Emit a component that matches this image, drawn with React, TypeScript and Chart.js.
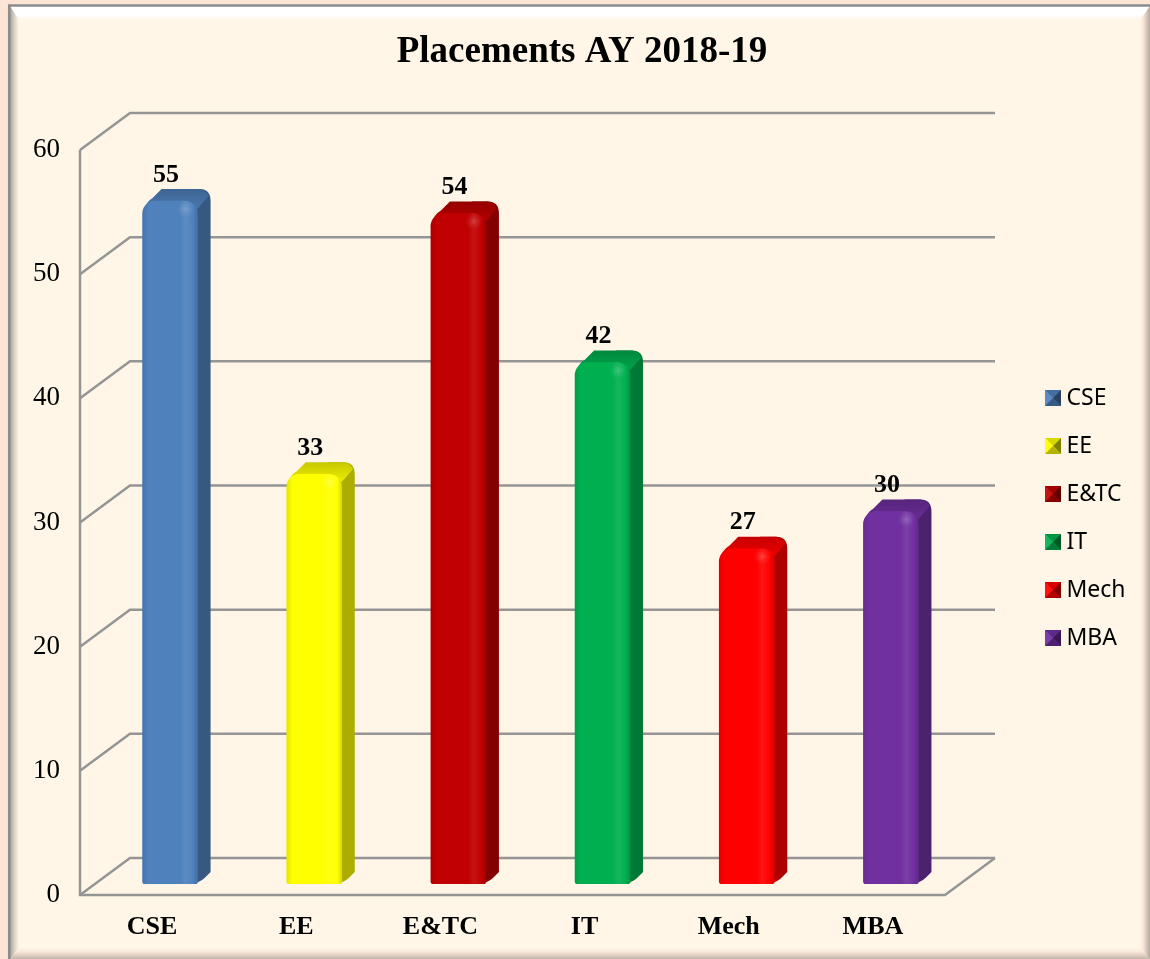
import React, { useEffect, useRef } from "react";
import { Chart, registerables } from "chart.js";

Chart.register(...registerables);

const categories = ["CSE", "EE", "E&TC", "IT", "Mech", "MBA"];
const placements = [55, 33, 54, 42, 27, 30];
const barColors = ["#4F81BD", "#FFFF00", "#C00000", "#00B050", "#FF0000", "#7030A0"];
const chartTitle = "Placements AY 2018-19";

const SERIF = "'Liberation Serif', 'Times New Roman', serif";
const CREAM = "#FFF6E8";
const GRID = "#959595";
const WALL_DX = 50;
const WALL_DY = 37;
const BAR_DX = 18;
const BAR_DY = 11;
const SIDE_DX = 13;
const SIDE_DY = 12;

function shade(hex: string, f: number, a = 1): string {
  const n = parseInt(hex.slice(1), 16);
  const ch = [(n >> 16) & 255, (n >> 8) & 255, n & 255].map((v) =>
    Math.round(f <= 1 ? v * f : v + (255 - v) * (f - 1))
  );
  return `rgba(${ch[0]},${ch[1]},${ch[2]},${a})`;
}

function marker(color: string): HTMLCanvasElement {
  const s = 16;
  const c = document.createElement("canvas");
  c.width = s;
  c.height = s;
  const g = c.getContext("2d")!;
  const tri = (pts: number[][], fill: string) => {
    g.fillStyle = fill;
    g.beginPath();
    g.moveTo(pts[0][0], pts[0][1]);
    g.lineTo(pts[1][0], pts[1][1]);
    g.lineTo(pts[2][0], pts[2][1]);
    g.closePath();
    g.fill();
  };
  g.fillStyle = color;
  g.fillRect(0, 0, s, s);
  const m = s / 2;
  tri([[0, 0], [s, 0], [m, m]], shade(color, 0.85));
  tri([[0, 0], [0, s], [m, m]], shade(color, 1.08));
  tri([[s, 0], [s, s], [m, m]], shade(color, 0.5));
  tri([[0, s], [s, s], [m, m]], shade(color, 0.7));
  return c;
}

const framePlugin = {
  id: "frame",
  beforeDraw(chart: any) {
    const { ctx, width: w, height: h } = chart;
    ctx.save();
    ctx.fillStyle = "#FDE5D6";
    ctx.fillRect(0, 0, w, h);
    ctx.fillStyle = CREAM;
    ctx.fillRect(10, 6, w - 10, h - 6);
    // top bevel
    let g = ctx.createLinearGradient(0, 6, 0, 20);
    g.addColorStop(0, "#FFFFFF");
    g.addColorStop(0.65, "#FFFFFF");
    g.addColorStop(1, CREAM);
    ctx.fillStyle = g;
    ctx.beginPath();
    ctx.moveTo(10, 6);
    ctx.lineTo(w, 6);
    ctx.lineTo(w - 10, 20);
    ctx.lineTo(19, 20);
    ctx.closePath();
    ctx.fill();
    // left bevel
    g = ctx.createLinearGradient(10, 0, 19, 0);
    g.addColorStop(0, "#A8A29C");
    g.addColorStop(0.5, "#DAD3C9");
    g.addColorStop(1, CREAM);
    ctx.fillStyle = g;
    ctx.beginPath();
    ctx.moveTo(10, 6);
    ctx.lineTo(19, 20);
    ctx.lineTo(19, h - 11);
    ctx.lineTo(10, h);
    ctx.closePath();
    ctx.fill();
    // right bevel
    g = ctx.createLinearGradient(w - 10, 0, w, 0);
    g.addColorStop(0, CREAM);
    g.addColorStop(0.35, "#F8E4D6");
    g.addColorStop(1, "#B5A89E");
    ctx.fillStyle = g;
    ctx.beginPath();
    ctx.moveTo(w, 6);
    ctx.lineTo(w - 10, 20);
    ctx.lineTo(w - 10, h - 11);
    ctx.lineTo(w, h);
    ctx.closePath();
    ctx.fill();
    // bottom bevel
    g = ctx.createLinearGradient(0, h - 11, 0, h);
    g.addColorStop(0, CREAM);
    g.addColorStop(0.4, "#F8E4D6");
    g.addColorStop(1, "#C2B4AA");
    ctx.fillStyle = g;
    ctx.beginPath();
    ctx.moveTo(10, h);
    ctx.lineTo(19, h - 11);
    ctx.lineTo(w - 10, h - 11);
    ctx.lineTo(w, h);
    ctx.closePath();
    ctx.fill();
    // outer line
    ctx.strokeStyle = "#8C8C8C";
    ctx.lineWidth = 2.5;
    ctx.beginPath();
    ctx.moveTo(9.2, h);
    ctx.lineTo(9.2, 5.5);
    ctx.lineTo(w, 5.5);
    ctx.stroke();
    ctx.restore();
  },
};

const wallPlugin = {
  id: "wall",
  beforeDatasetsDraw(chart: any) {
    const { ctx, chartArea: a, scales } = chart;
    const y = scales.y;
    ctx.save();
    ctx.strokeStyle = GRID;
    ctx.lineWidth = 2.5;
    y.ticks.forEach((t: any) => {
      const py = y.getPixelForValue(t.value);
      ctx.beginPath();
      ctx.moveTo(a.left, py);
      ctx.lineTo(a.left + WALL_DX, py - WALL_DY);
      ctx.lineTo(a.right + WALL_DX, py - WALL_DY);
      ctx.stroke();
    });
    ctx.beginPath();
    ctx.moveTo(a.left, a.top);
    ctx.lineTo(a.left, a.bottom);
    ctx.lineTo(a.right, a.bottom);
    ctx.lineTo(a.right + WALL_DX, a.bottom - WALL_DY);
    ctx.stroke();
    ctx.restore();
  },
};

const bar3dPlugin = {
  id: "bar3d",
  beforeDatasetDraw(chart: any, args: any) {
    const { ctx } = chart;
    ctx.save();
    ctx.translate(BAR_DX, -BAR_DY);
    args.meta.data.forEach((el: any, i: number) => {
      const c = barColors[i];
      const L = el.x - el.width / 2;
      const R = el.x + el.width / 2;
      const T = el.y;
      const B = el.base;
      const dx = SIDE_DX;
      const dy = SIDE_DY;
      // right side
      ctx.fillStyle = shade(c, 0.68);
      ctx.beginPath();
      ctx.moveTo(R - 14, T - dy);
      ctx.lineTo(R + dx - 11, T - dy);
      ctx.quadraticCurveTo(R + dx, T - dy, R + dx, T - dy + 12);
      ctx.lineTo(R + dx, B - 12);
      ctx.lineTo(R + 7, B - 6);
      ctx.quadraticCurveTo(R + 2, B - 1, R - 8, B);
      ctx.closePath();
      ctx.fill();
      // top
      const g = ctx.createLinearGradient(0, T - dy, 0, T + 4);
      g.addColorStop(0, shade(c, 0.78));
      g.addColorStop(1, shade(c, 0.9));
      ctx.fillStyle = g;
      ctx.beginPath();
      ctx.moveTo(L + 1, T + 10);
      ctx.quadraticCurveTo(L + 3, T + 1, L + 10, T - 3);
      ctx.lineTo(L + 19, T - dy);
      ctx.lineTo(R + dx - 11, T - dy);
      ctx.quadraticCurveTo(R + dx - 4, T - dy + 1, R + dx - 2, T - dy + 7);
      ctx.lineTo(R - 2, T + 10);
      ctx.closePath();
      ctx.fill();
    });
  },
  afterDatasetDraw(chart: any, args: any) {
    const { ctx } = chart;
    args.meta.data.forEach((el: any, i: number) => {
      const c = barColors[i];
      const R = el.x + el.width / 2;
      const T = el.y;
      const hx = R - 12;
      const hy = T + 8;
      const g = ctx.createRadialGradient(hx, hy, 0, hx, hy, 9);
      g.addColorStop(0, shade(c, 1.28, 0.9));
      g.addColorStop(1, shade(c, 1.1, 0));
      ctx.fillStyle = g;
      ctx.fillRect(hx - 9, hy - 9, 18, 18);
    });
    ctx.restore();
    // value labels
    ctx.save();
    ctx.fillStyle = "#000";
    ctx.font = `bold 26px ${SERIF}`;
    ctx.textAlign = "center";
    ctx.textBaseline = "middle";
    args.meta.data.forEach((el: any, i: number) => {
      ctx.fillText(String(placements[i]), el.x + BAR_DX - 4, el.y - BAR_DY - 26);
    });
    ctx.restore();
  },
};

const placePlugin = {
  id: "place",
  afterLayout(chart: any) {
    if (chart.legend) {
      const l = chart.legend;
      l.left = 1026;
      l.top = 361.5;
      l.right = 1150;
      l.bottom = 700;
      l.width = l.right - l.left;
      l.height = l.bottom - l.top;
    }
    if (chart.titleBlock) {
      chart.titleBlock.left = 7;
      chart.titleBlock.right = 1157;
    }
  },
};

export default function App() {
  const ref = useRef<HTMLCanvasElement>(null);
  useEffect(() => {
    const chart = new Chart(ref.current!, {
      type: "bar",
      data: {
        labels: categories,
        datasets: [
          {
            label: "Placements",
            data: placements,
            barThickness: 55,
            borderSkipped: false,
            borderRadius: { topLeft: 13, topRight: 13, bottomLeft: 3, bottomRight: 3 },
            backgroundColor: (ctx: any) => {
              const ch = ctx.chart;
              const c = barColors[ctx.dataIndex] || barColors[0];
              if (!ch.scales.x || ctx.dataIndex === undefined) return c;
              const x = ch.scales.x.getPixelForValue(ctx.dataIndex);
              const g = ch.ctx.createLinearGradient(x - 27.5, 0, x + 27.5, 0);
              g.addColorStop(0, shade(c, 0.9));
              g.addColorStop(0.1, c);
              g.addColorStop(0.68, c);
              g.addColorStop(0.78, shade(c, 1.08));
              g.addColorStop(0.92, c);
              g.addColorStop(1, shade(c, 0.85));
              return g;
            },
          },
        ],
      },
      plugins: [framePlugin, wallPlugin, bar3dPlugin, placePlugin],
      options: {
        responsive: false,
        animation: false,
        layout: { padding: { left: 0, right: 205, top: 0, bottom: 0 } },
        scales: {
          x: {
            grid: { display: false },
            border: { display: false },
            afterFit: (s: any) => {
              s.height = 64;
            },
            ticks: {
              color: "#000",
              padding: 9,
              maxRotation: 0,
              font: { family: SERIF, size: 26, weight: "bold" },
            },
          },
          y: {
            min: 0,
            max: 60,
            grid: { display: false },
            border: { display: false },
            afterFit: (s: any) => {
              s.width = 80;
            },
            ticks: {
              stepSize: 10,
              color: "#000",
              padding: 12,
              font: { family: SERIF, size: 27 },
            },
          },
        },
        plugins: {
          title: {
            display: true,
            text: chartTitle,
            color: "#000",
            font: { family: SERIF, size: 37, weight: "bold" },
            padding: { top: 30, bottom: 75.6 },
          },
          tooltip: { enabled: false },
          legend: {
            display: true,
            position: "chartArea",
            align: "start",
            labels: {
              color: "#000",
              font: { family: "'Noto Sans'", size: 23 },
              padding: 25,
              usePointStyle: true,
              pointStyleWidth: 4,
              generateLabels: () =>
                categories.map((text, i) => ({
                  text,
                  fontColor: "#000",
                  pointStyle: marker(barColors[i]),
                  lineWidth: 0,
                  hidden: false,
                  index: i,
                })),
            },
          },
        },
      } as any,
    } as any);
    return () => chart.destroy();
  }, []);
  return (
    <div style={{ position: "absolute", left: 0, top: 0, width: 1150, height: 959 }}>
      <canvas ref={ref} width={1150} height={959} style={{ display: "block" }} />
    </div>
  );
}
